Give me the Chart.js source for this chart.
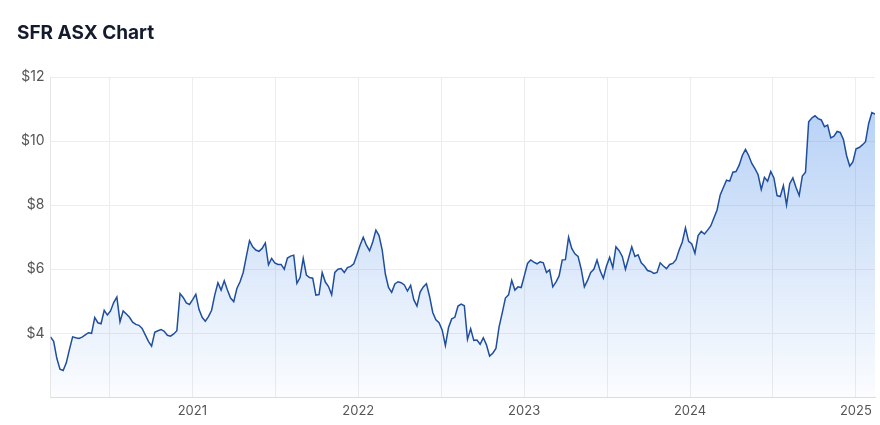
<!DOCTYPE html>
<html>
<head>
<meta charset="utf-8">
<script src="https://cdn.jsdelivr.net/npm/chart.js@4.4.0/dist/chart.umd.min.js"></script>
<style>
  body { margin: 0; background: #fff; }
  #wrap { position: relative; width: 880px; height: 425px; }
  h1 { position: absolute; left: 17px; top: 21px; margin: 0; font: 700 19px Inter, sans-serif; color: #141b2d; }
</style>
</head>
<body>
<div id="wrap">
  <h1>SFR ASX Chart</h1>
  <canvas id="chart" width="880" height="425"></canvas>
</div>
<script>
// Weekly closing prices (AUD)
const firstWeek = 2020.145;   // decimal year of first point
const lastWeek = 2025.115;    // decimal year of last point
const prices = [
  3.89, 3.75, 3.22, 2.88, 2.84, 3.08, 3.5, 3.89, 3.86, 3.84, 3.88, 3.95, 4.02, 4.0, 4.49, 4.33,
  4.30, 4.72, 4.57, 4.70, 4.96, 5.13, 4.36, 4.70, 4.60, 4.50, 4.35, 4.28, 4.25, 4.15, 3.95, 3.75,
  3.60, 4.03, 4.08, 4.12, 4.06, 3.94, 3.91, 3.98, 4.08, 5.24, 5.12,
  4.95, 4.90, 5.05, 5.22, 4.75, 4.50, 4.38, 4.52, 4.72, 5.2, 5.58, 5.35, 5.64, 5.35, 5.1, 4.99,
  5.4, 5.61, 5.9, 6.4, 6.89, 6.7, 6.6, 6.56, 6.65, 6.82, 6.14, 6.34, 6.2, 6.15, 6.15, 6.0,
  6.35, 6.41, 6.44, 5.56, 5.74, 6.34, 5.82, 5.74, 5.72, 5.19, 5.21, 5.90, 5.6, 5.46,
  5.20, 5.90, 6.0, 6.02, 5.9, 6.05, 6.09, 6.17, 6.45, 6.75, 7.0, 6.75, 6.58, 6.85, 7.22, 7.05,
  6.6, 5.85, 5.43, 5.28, 5.54, 5.61, 5.58, 5.51, 5.32, 5.5, 5.05, 4.85, 5.29, 5.45, 5.55, 5.15,
  4.65, 4.42, 4.33, 4.1, 3.62, 4.18, 4.45, 4.5, 4.85, 4.91,
  4.86, 3.81, 4.14, 3.78, 3.79, 3.66, 3.86, 3.64, 3.29, 3.38, 3.53, 4.2, 4.64, 5.1, 5.2, 5.65,
  5.35, 5.45, 5.43, 5.8, 6.18, 6.29, 6.22, 6.17, 6.23, 6.2, 5.9, 5.98, 5.45, 5.6, 5.79, 6.29,
  6.3, 7.0, 6.65, 6.48, 6.4, 6.0, 5.45, 5.65, 5.9, 6.0, 6.29,
  5.95, 5.72, 6.1, 6.37, 6.05, 6.70, 6.58, 6.4, 6.0, 6.35, 6.7, 6.4, 6.45, 6.2, 6.1, 5.96,
  5.93, 5.87, 5.9, 6.2, 6.1, 6.02, 6.15, 6.18, 6.3, 6.6, 6.85, 7.29, 6.87, 6.79, 6.5, 7.05,
  7.18, 7.1, 7.22, 7.35, 7.6, 7.85, 8.32, 8.55, 8.78, 8.75,
  9.03, 9.05, 9.25, 9.55, 9.74, 9.55, 9.3, 9.14, 8.95, 8.49, 8.87, 8.75, 9.05, 8.85, 8.30, 8.27,
  8.61, 8.01, 8.67, 8.85, 8.55, 8.3, 8.91, 9.03, 10.6, 10.72, 10.79, 10.7, 10.66, 10.45, 10.5, 10.1,
  10.15, 10.3, 10.27, 10.05, 9.55, 9.22, 9.35, 9.76, 9.8, 9.88, 9.98, 10.55, 10.89, 10.84
];

// Axis ticks
const xGridMarks = [2020.5, 2021, 2021.5, 2022, 2022.5, 2023, 2023.5, 2024, 2024.5, 2025];
const yTicks = [2, 4, 6, 8, 10, 12];

const step = (lastWeek - firstWeek) / (prices.length - 1);
const points = prices.map((p, i) => ({ x: firstWeek + i * step, y: p }));

// Fill fades from light blue at top to almost white at the bottom
function areaFill(context) {
    const { ctx, chartArea } = context.chart;
    if (!chartArea) return null;
    const g = ctx.createLinearGradient(0, chartArea.top, 0, chartArea.bottom);
    g.addColorStop(0, "rgba(59,130,230,0.40)");
    g.addColorStop(1, "rgba(59,130,230,0.02)");
    return g;
}

new Chart(document.getElementById("chart"), {
    type: "line",
    data: {
        datasets: [{
            data: points,
            borderColor: "#1f4e9f",
            borderWidth: 1.5,
            backgroundColor: areaFill,
            fill: "start",
            pointRadius: 0,
            tension: 0
        }]
    },
    options: {
        responsive: false,
        animation: false,
        layout: { padding: { top: 77, left: 15, right: 5, bottom: 0 } },
        plugins: { legend: { display: false }, tooltip: { enabled: false } },
        scales: {
            x: {
                type: "linear",
                min: firstWeek,
                max: lastWeek,
                afterBuildTicks: axis => { axis.ticks = xGridMarks.map(v => ({ value: v })); },
                ticks: {
                    autoSkip: false,
                    maxRotation: 0,
                    padding: 6,
                    color: "#555",
                    font: { family: "Inter, sans-serif", size: 13 },
                    callback: v => Number.isInteger(v) ? String(v) : ""
                },
                grid: { color: "#ededed", drawTicks: false },
                border: { color: "#dcdcdc" }
            },
            y: {
                min: 2,
                max: 12,
                afterBuildTicks: axis => { axis.ticks = yTicks.map(v => ({ value: v })); },
                ticks: {
                    padding: 6,
                    color: "#555",
                    font: { family: "Inter, sans-serif", size: 14 },
                    callback: v => v === 2 ? "" : "$" + v
                },
                grid: { color: "#ededed", drawTicks: false },
                border: { color: "#e6e6e6" }
            }
        }
    }
});
</script>
</body>
</html>
